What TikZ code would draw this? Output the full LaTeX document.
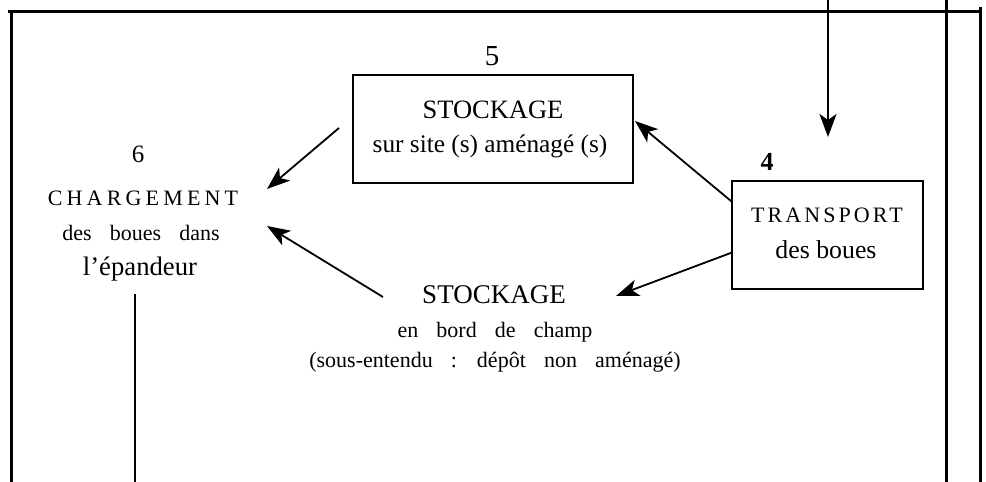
\documentclass[tikz,border=0pt]{standalone}
\usepackage{fontspec}
\setmainfont{Liberation Serif}
\newfontfamily\capsspaced[LetterSpace=14]{Liberation Serif}
\newfontfamily\capswide[LetterSpace=19]{Liberation Serif}
\newfontfamily\wordwide[WordSpace=3.3]{Liberation Serif}
\usetikzlibrary{arrows.meta}

\tikzset{
  frameline/.style={line width=3pt},
  stepbox/.style={draw, line width=1.6pt, inner sep=0pt},
  flow/.style={line width=1.8pt, -{Stealth[length=23pt,width=17pt,inset=6pt]}},
  lbl/.style={anchor=base, inner sep=0pt},
}
\newcommand{\fs}[1]{\fontsize{#1}{#1}\selectfont}

\begin{document}
\begin{tikzpicture}[x=1pt,y=-1pt]
\useasboundingbox (0,0) rectangle (986,482);

% outer frame and column rules
\coordinate (tl) at (8,11);
\coordinate (tr) at (980,11);
\coordinate (lt) at (11,11);
\coordinate (lb) at (11,482);
\coordinate (c1t) at (946,0);
\coordinate (c1b) at (946,482);
\coordinate (c2t) at (980,7);
\coordinate (c2b) at (980,482);
\draw[frameline] (tl) -- (tr);
\draw[frameline] (lt) -- (lb);
\draw[frameline] (c1t) -- (c1b);
\draw[frameline] (c2t) -- (c2b);

% boxes
\node[stepbox, minimum width=280pt, minimum height=108pt] (box5) at (493,129) {};
\node[stepbox, minimum width=191pt, minimum height=108pt] (box4) at (827.5,235) {};

% step numbers
\node[lbl] (n5) at (492,65) {\fs{29}5};
\node[lbl] (n4) at (767,170) {\bfseries\fs{26}4};
\node[lbl] (n6) at (138,162) {\fs{25}6};

% box 5 text
\node[lbl] (t5a) at (493,118) {\fs{26.5}STOCKAGE};
\node[lbl] (t5b) at (490,152) {\fs{25.3}sur site (s) aménagé (s)};

% box 4 text
\node[lbl] (t4a) at (827,222) {\capsspaced\fs{22}TRANSPORT};
\node[lbl] (t4b) at (826,258) {\fs{25.8}des boues};

% loading step text
\node[lbl] (t6a) at (143,205) {\capswide\fs{22}CHARGEMENT};
\node[lbl] (t6b) at (141,240) {\wordwide\fs{22}des boues dans};
\node[lbl] (t6c) at (140,275) {\fs{26.7}l’épandeur};

% field-side storage text
\node[lbl] (s1) at (494,303) {\fs{27}STOCKAGE};
\node[lbl] (s2) at (495,337) {\wordwide\fs{22}en bord de champ};
\node[lbl] (s3) at (495,367) {\wordwide\fs{22}(sous-entendu : dépôt non aménagé)};

% connector end points
\coordinate (inflow) at (828,0);
\coordinate (inflowtip) at (828,137);
\coordinate (a1s) at (339,128);
\coordinate (a1e) at (267,189);
\coordinate (a2s) at (383,297);
\coordinate (a2e) at (267,226);
\coordinate (a3s) at ([yshift=-21pt]box4.north west);
\coordinate (a3e) at (635,121);
\coordinate (a4s) at ([yshift=37pt]box4.south west);
\coordinate (a4e) at (616,296);
\coordinate (dropt) at (135,294);
\coordinate (dropb) at (135,482);

% connectors
\draw[flow, line width=2.6pt] (inflow) -- (inflowtip);
\draw[flow] (a1s) -- (a1e);
\draw[flow] (a2s) -- (a2e);
\draw[flow] (a3s) -- (a3e);
\draw[flow] (a4s) -- (a4e);
\draw[line width=2pt] (dropt) -- (dropb);
\end{tikzpicture}
\end{document}
